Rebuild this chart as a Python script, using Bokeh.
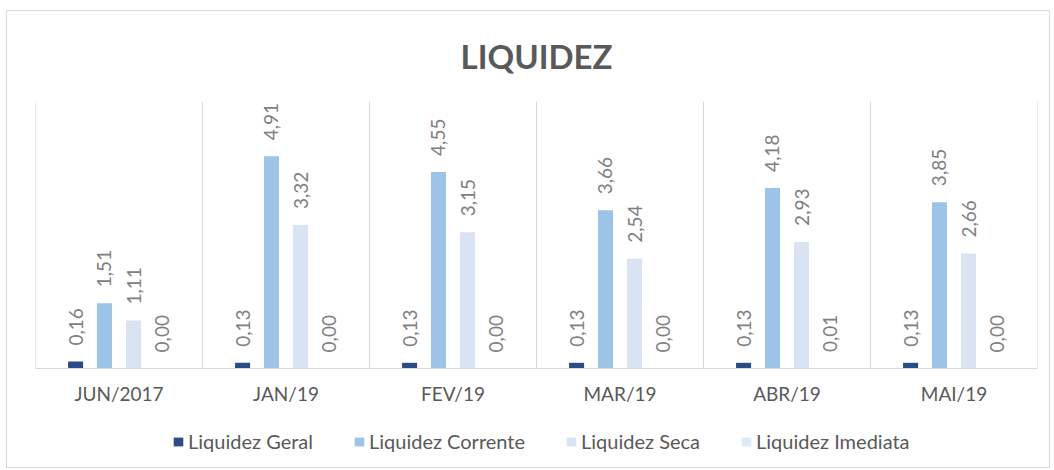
from bokeh.plotting import figure
from bokeh.models import ColumnDataSource, FixedTicker, Legend, LegendItem
from bokeh.core.properties import value
from bokeh.embed import file_html
from bokeh.resources import INLINE
from math import pi

categories = ["JUN/2017", "JAN/19", "FEV/19", "MAR/19", "ABR/19", "MAI/19"]
liquidez_geral = [0.16, 0.13, 0.13, 0.13, 0.13, 0.13]
liquidez_corrente = [1.51, 4.91, 4.55, 3.66, 4.18, 3.85]
liquidez_seca = [1.11, 3.32, 3.15, 2.54, 2.93, 2.66]
liquidez_imediata = [0.00, 0.00, 0.00, 0.00, 0.01, 0.00]
series_names = ["Liquidez Geral", "Liquidez Corrente", "Liquidez Seca", "Liquidez Imediata"]

series = [liquidez_geral, liquidez_corrente, liquidez_seca, liquidez_imediata]
colors = ["#2B4A88", "#9DC3E6", "#DAE3F3", "#DEEBF7"]
offsets = [-0.26, -0.087, 0.087, 0.26]
FONT = "Lato"
TXT = "#595959"
Y_TOP = 6.18
Y_BOTTOM = -2.34

p = figure(width=1044, height=458, output_backend="svg", toolbar_location=None,
           x_range=(0, len(categories)), y_range=(Y_BOTTOM, Y_TOP),
           min_border_left=28, min_border_right=14, min_border_top=90, min_border_bottom=0)
p.styles = {"border": "1px solid #D9D9D9", "margin": "10px 0 0 6px"}
p.outline_line_color = None
p.xaxis.visible = False
p.yaxis.visible = False

p.title.text = "LIQUIDEZ"
p.title.align = "center"
p.title.vertical_align = "top"
p.title.text_font = FONT
p.title.text_font_size = "33px"
p.title.text_font_style = "bold"
p.title.text_color = TXT
p.title.standoff = 48

# category dividers and baseline
bounds = list(range(len(categories) + 1))
p.segment(x0=bounds, x1=bounds, y0=[0] * len(bounds), y1=[Y_TOP] * len(bounds),
          line_color="#D9D9D9", line_width=1)
p.xgrid.grid_line_color = None
p.ygrid.ticker = FixedTicker(ticks=[0])
p.ygrid.grid_line_color = "#D9D9D9"
p.ygrid.level = "overlay"

centers = [i + 0.5 for i in range(len(categories))]
items = []
for name, vals, col, off in zip(series_names, series, colors, offsets):
    xs = [c + off for c in centers]
    src = ColumnDataSource(dict(x=xs, top=vals,
                                lbl=[f"{v:.2f}".replace(".", ",") for v in vals]))
    r = p.vbar(x="x", top="top", width=0.09, bottom=0, source=src, fill_color=col, line_color=None)
    p.text(x="x", y="top", text="lbl", source=src, angle=pi / 2, text_align="left",
           text_baseline="middle", x_offset=0, y_offset=-16, text_font=value(FONT),
           text_font_size="19px", text_color="#808080")
    items.append(LegendItem(label=name, renderers=[r]))

# category labels under the baseline
p.text(x=centers, y=[0] * len(centers), text=categories, text_align="center",
       text_baseline="middle", y_offset=25, text_font=value(FONT),
       text_font_size="19px", text_color=TXT)

legend = Legend(items=items, orientation="horizontal", location=(137, 16),
                label_text_font=FONT, label_text_font_size="20px", label_text_color=TXT,
                glyph_width=12, glyph_height=11, spacing=40, border_line_color=None,
                background_fill_alpha=0, margin=0, padding=0, label_standoff=4)
p.add_layout(legend)

open("out.html", "w").write(file_html(p, INLINE))
